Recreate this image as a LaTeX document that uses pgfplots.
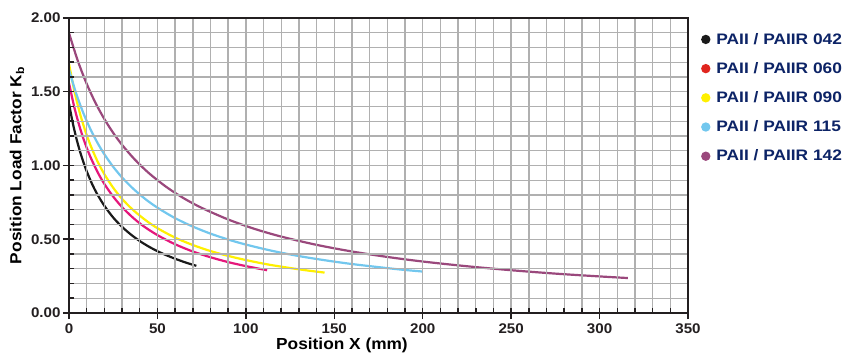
\documentclass[border=0pt]{standalone}
\usepackage{pgfplots}
\pgfplotsset{compat=1.18}
\usepackage{fontspec}
\setmainfont{Liberation Sans}[FakeStretch=1.08]
\newfontfamily\legfont{Liberation Sans}[FakeStretch=1.14]
\definecolor{cblack}{HTML}{1A1A1A}
\definecolor{cmag}{HTML}{E5177B}
\definecolor{cred}{HTML}{E0251E}
\definecolor{cyel}{HTML}{FFF000}
\definecolor{cblue}{HTML}{72C7EE}
\definecolor{cpur}{HTML}{9A487C}
\definecolor{navy}{HTML}{0C2366}
\definecolor{gridg}{HTML}{B0B0B0}
\definecolor{tickc}{HTML}{231F20}
\begin{document}
\begin{tikzpicture}
\path[use as bounding box] (-69bp,-40bp) rectangle (779bp,313bp);
\begin{axis}[
  at={(0,0)}, anchor=south west,
  scale only axis, width=619bp, height=295bp,
  xmin=0, xmax=350, ymin=0, ymax=2,
  xtick={0,50,...,350}, ytick={0,0.5,1,1.5,2},
  minor xtick={0,10,...,350}, minor ytick={0,0.1,...,2},
  yticklabels={0.00,0.50,1.00,1.50,2.00},
  grid=both,
  major grid style={gridg, line width=1.4bp},
  minor grid style={gridg, line width=1.4bp},
  tick pos=left,
  tick align=outside,
  major tick length=6bp, minor tick length=0pt,
  tick style={tickc, line width=1.5bp},
  extra x ticks={0,10,...,350}, extra y ticks={0,0.1,...,2},
  extra x tick labels={}, extra y tick labels={},
  extra tick style={tick align=inside, major tick length=5bp, grid=none},
  axis line style={tickc, line width=2.5bp},
  axis on top,
  /pgf/number format/assume math mode=true,
  ticklabel style={font=\fontsize{14bp}{16bp}\selectfont\bfseries, text=tickc},
  xticklabel style={yshift=-1bp},
  yticklabel style={xshift=1bp},
  xlabel={Position X (mm)},
  ylabel={Position Load Factor K\textsubscript{b}},
  label style={font=\fontsize{16bp}{18bp}\selectfont\bfseries},
  xlabel style={at={(axis description cs:0.441,0)}, anchor=center, yshift=-32bp},
  ylabel style={at={(axis description cs:-0.084,0.5)}, anchor=center},
  legend style={at={(1,1)}, anchor=north west, xshift=13bp, yshift=-11bp,
    draw=none, fill=none, font=\legfont\fontsize{15.2bp}{17bp}\selectfont\bfseries,
    text=navy, row sep=12.7bp, inner xsep=0pt,
    nodes={inner xsep=6bp}},
  legend cell align=left,
  every axis plot/.append style={line width=2.2bp},
]
\addplot[cblack, smooth, legend image code/.code={\fill[cblack] (0.15cm,0) circle (3.5bp);}] coordinates {
(0,1.420)(2,1.296)(4,1.192)(6,1.104)(8,1.028)(10,0.961)(13,0.876)(16,0.805)(20,0.727)(25,0.647)(30,0.584)(35,0.532)(40,0.488)(45,0.451)(50,0.419)(55,0.392)(60,0.368)(66,0.342)(72,0.320)};
\addlegendentry{PAII / PAIIR 042}
\addplot[cmag, smooth, legend image code/.code={\fill[cred] (0.15cm,0) circle (3.5bp);}] coordinates {
(0,1.559)(3,1.395)(6,1.263)(9,1.153)(12,1.061)(16,0.959)(20,0.875)(25,0.789)(30,0.718)(36,0.648)(42,0.590)(50,0.528)(60,0.466)(70,0.417)(80,0.378)(90,0.345)(100,0.318)(112,0.290)};
\addlegendentry{PAII / PAIIR 060}
\addplot[cyel, smooth, legend image code/.code={\fill[cyel] (0.15cm,0) circle (3.5bp);}] coordinates {
(0,1.690)(3,1.508)(6,1.361)(9,1.242)(12,1.142)(16,1.031)(20,0.941)(25,0.849)(30,0.774)(36,0.701)(43,0.632)(50,0.575)(60,0.511)(70,0.461)(80,0.420)(90,0.387)(100,0.359)(112,0.330)(125,0.305)(135,0.288)(144.5,0.274)};
\addlegendentry{PAII / PAIIR 090}
\addplot[cblue, smooth, legend image code/.code={\fill[cblue] (0.15cm,0) circle (3.5bp);}] coordinates {
(0,1.650)(4,1.490)(8,1.359)(12,1.249)(16,1.156)(20,1.076)(25,0.991)(30,0.919)(36,0.846)(43,0.774)(50,0.714)(60,0.643)(70,0.586)(80,0.538)(90,0.498)(100,0.464)(115,0.421)(130,0.386)(145,0.357)(160,0.332)(175,0.311)(188,0.294)(200,0.281)};
\addlegendentry{PAII / PAIIR 115}
\addplot[cpur, smooth, legend image code/.code={\fill[cpur] (0.15cm,0) circle (3.5bp);}] coordinates {
(0,1.898)(5,1.709)(10,1.554)(15,1.424)(20,1.315)(25,1.221)(30,1.140)(37,1.043)(45,0.950)(55,0.855)(65,0.777)(75,0.713)(90,0.634)(105,0.570)(120,0.518)(140,0.462)(160,0.417)(180,0.380)(200,0.349)(225,0.317)(250,0.290)(275,0.267)(300,0.248)(316,0.237)};
\addlegendentry{PAII / PAIIR 142}
\end{axis}
\end{tikzpicture}
\end{document}
